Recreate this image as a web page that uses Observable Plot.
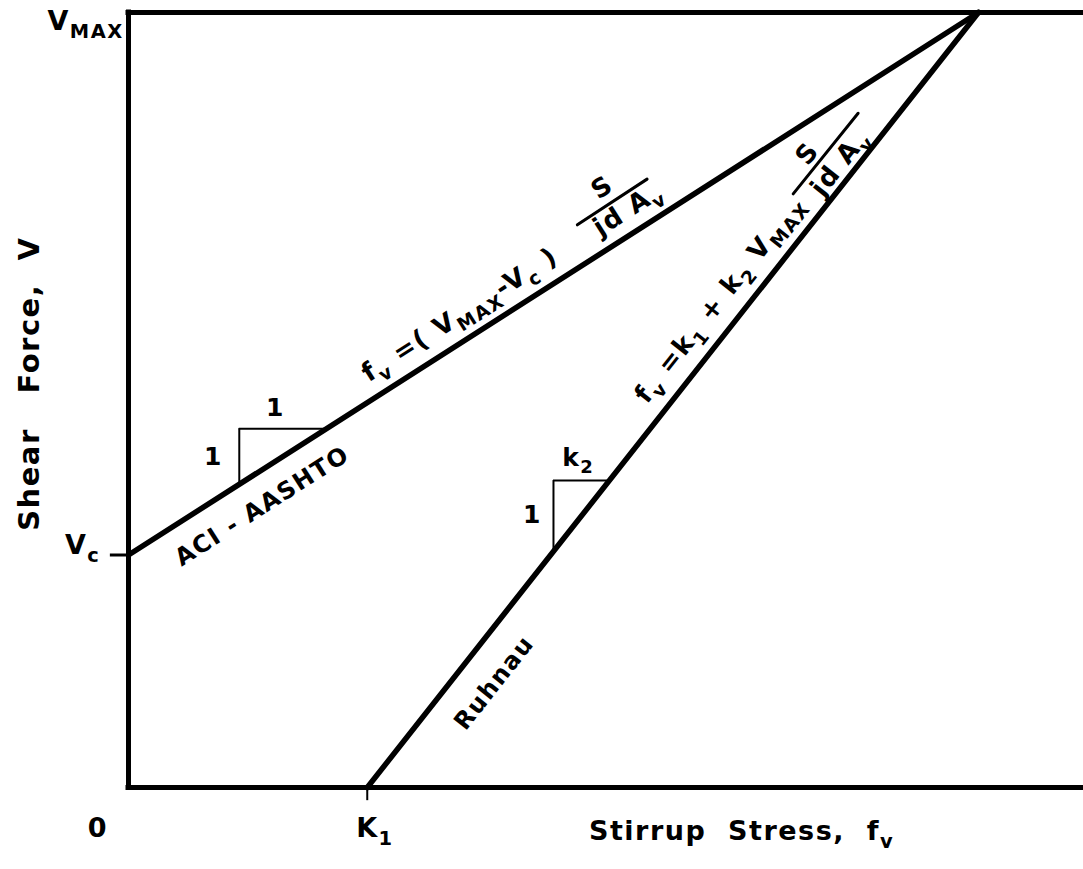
<!DOCTYPE html>
<html>
<head>
<meta charset="utf-8">
<script src="https://cdn.jsdelivr.net/npm/d3@7"></script>
<script src="https://cdn.jsdelivr.net/npm/@observablehq/plot@0.6"></script>
<style>
  html, body { margin: 0; padding: 0; background: #fff; }
</style>
</head>
<body>
<div id="chart"></div>
<script>
// ---- Data (abstract units: x = stirrup stress, y = shear force, both 0–10) ----
const xDomain = [0, 10];
const yDomain = [0, 10];

// Design lines
const aciX = [0, 8.9];      // ACI - AASHTO: from (0, Vc) to (fv at VMAX, VMAX)
const aciY = [3.0, 10];
const ruhnauX = [2.5, 8.9]; // Ruhnau: from (K1, 0) to (fv at VMAX, VMAX)
const ruhnauY = [0, 10];

// Axis tick positions
const vcValue = 3.0;
const vmaxValue = 10;
const k1Value = 2.5;

// Tick labels (centre positions)
const tickLabels = [
  {text: "V_{MAX}", x: -0.45, y: 9.88},
  {text: "V_{c}",   x: -0.48, y: 3.12},
  {text: "0",       x: -0.32, y: -0.53},
  {text: "K_{1}",   x: 2.58,  y: -0.53}
];

// Axis titles
const xTitle = [{text: "Stirrup  Stress,  f_{v}", x: 6.42, y: -0.57}];
const yTitle = [{text: "Shear   Force,  V", x: -1.03, y: 5.21}];

// Slope triangles (legs)
const aciTriangle = {x0: 1.16, yLine: 3.91, yTop: 4.63, xLine: 2.07};
const ruhTriangle = {x0: 4.45, yLine: 3.05, yTop: 3.96, xLine: 5.03};
const slopeLabels = [
  {text: "1",     x: 0.89, y: 4.26},
  {text: "1",     x: 1.54, y: 4.90},
  {text: "1",     x: 4.23, y: 3.51},
  {text: "k_{2}", x: 4.71, y: 4.25}
];

// Line labels and formulas
const lineLabels = [
  {text: "ACI - AASHTO", x: 1.40, y: 3.63, rotate: -32.5, size: 24},
  {text: "Ruhnau",       x: 3.83, y: 1.35, rotate: -51.7, size: 24},
  {text: "f_{v} =( V_{MAX}-V_{c} )", x: 3.47, y: 6.10, rotate: -32.5, size: 26},
  {text: "S",            x: 4.96, y: 7.74, rotate: -32.5, size: 26},
  {text: "jd A_{v}",     x: 5.23, y: 7.46, rotate: -32.5, size: 26},
  {text: "f_{v} =k_{1} + k_{2} V_{MAX}", x: 6.19, y: 6.30, rotate: -51.7, size: 26},
  {text: "S",            x: 7.11, y: 8.18, rotate: -51.7, size: 26},
  {text: "jd A_{v}",     x: 7.45, y: 8.06, rotate: -51.7, size: 26}
];

// Fraction bars
const fractionBars = [
  {x1: 4.70, y1: 7.26, x2: 5.43, y2: 7.85},
  {x1: 6.96, y1: 7.66, x2: 7.64, y2: 8.70}
];

// ---- Chart ----
const font = "DejaVu Sans";
const plot = Plot.plot({
  width: 1083,
  height: 869,
  marginLeft: 128,
  marginRight: 0,
  marginTop: 12,
  marginBottom: 82,
  x: {domain: xDomain, axis: null},
  y: {domain: yDomain, axis: null},
  style: {fontFamily: font, fontWeight: "bold", background: "#fff", color: "#000", overflow: "visible", letterSpacing: "1.5px"},
  marks: [
    // frame: left axis, bottom axis, top (VMAX) line
    Plot.ruleX([0], {y1: yDomain[0], y2: vmaxValue, stroke: "#000", strokeWidth: 5, strokeLinecap: "square"}),
    Plot.ruleY([0], {x1: xDomain[0], x2: xDomain[1], stroke: "#000", strokeWidth: 5, strokeLinecap: "square"}),
    Plot.ruleY([vmaxValue], {x1: xDomain[0], x2: xDomain[1], stroke: "#000", strokeWidth: 5, strokeLinecap: "square"}),
    // ticks
    Plot.ruleY([vcValue], {x1: -0.19, x2: 0, stroke: "#000", strokeWidth: 3}),
    Plot.ruleX([k1Value], {y1: -0.17, y2: 0, stroke: "#000", strokeWidth: 2}),
    // design lines
    Plot.line(aciX.map((x, i) => ({x, y: aciY[i]})), {x: "x", y: "y", stroke: "#000", strokeWidth: 5.5, strokeLinecap: "round"}),
    Plot.line(ruhnauX.map((x, i) => ({x, y: ruhnauY[i]})), {x: "x", y: "y", stroke: "#000", strokeWidth: 5.5, strokeLinecap: "round"}),
    // slope triangles
    Plot.ruleX([aciTriangle], {x: "x0", y1: "yLine", y2: "yTop", stroke: "#000", strokeWidth: 2}),
    Plot.ruleY([aciTriangle], {y: "yTop", x1: "x0", x2: "xLine", stroke: "#000", strokeWidth: 2}),
    Plot.ruleX([ruhTriangle], {x: "x0", y1: "yLine", y2: "yTop", stroke: "#000", strokeWidth: 2}),
    Plot.ruleY([ruhTriangle], {y: "yTop", x1: "x0", x2: "xLine", stroke: "#000", strokeWidth: 2}),
    // fraction bars
    Plot.link(fractionBars, {x1: "x1", y1: "y1", x2: "x2", y2: "y2", stroke: "#000", strokeWidth: 3, strokeLinecap: "round"}),
    // texts
    Plot.text(tickLabels, {x: "x", y: "y", text: "text", fontSize: 27, fill: "#000"}),
    Plot.text(xTitle, {x: "x", y: "y", text: "text", fontSize: 27, fill: "#000"}),
    Plot.text(yTitle, {x: "x", y: "y", text: "text", rotate: -90, fontSize: 29, fill: "#000"}),
    Plot.text(slopeLabels, {x: "x", y: "y", text: "text", fontSize: 25, fill: "#000"}),
    Plot.text(lineLabels, {x: "x", y: "y", text: "text", rotate: "rotate", fontSize: "size", fill: "#000"})
  ]
});

// Render "_{...}" as real subscripts (tspans)
d3.select(plot).selectAll("text").each(function () {
  const el = this;
  const raw = el.textContent;
  if (!raw.includes("_{")) return;
  while (el.firstChild) el.removeChild(el.firstChild);
  const parts = raw.split(/(_\{[^}]*\})/).filter(s => s.length);
  let inSub = false;
  for (const p of parts) {
    const ts = document.createElementNS("http://www.w3.org/2000/svg", "tspan");
    if (p.startsWith("_{")) {
      ts.textContent = p.slice(2, -1);
      ts.setAttribute("font-size", "72%");
      ts.setAttribute("dy", "0.4em");
      inSub = true;
    } else {
      ts.textContent = p;
      if (inSub) ts.setAttribute("dy", "-0.288em");
      inSub = false;
    }
    el.appendChild(ts);
  }
});

document.getElementById("chart").appendChild(plot);
</script>
</body>
</html>
